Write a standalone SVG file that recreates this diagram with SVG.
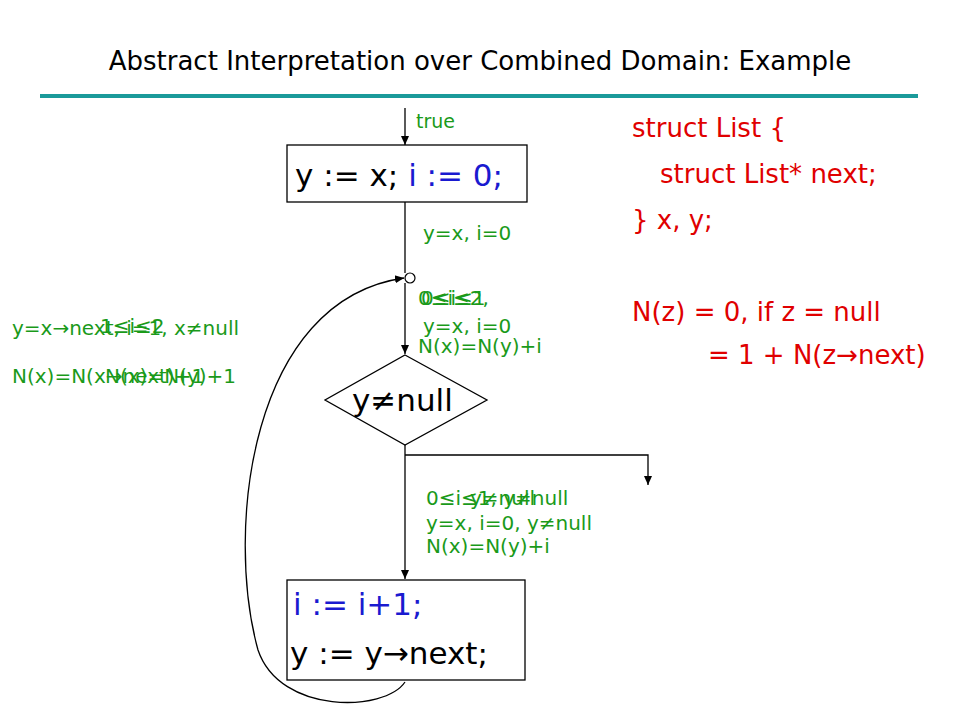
<svg xmlns="http://www.w3.org/2000/svg" width="960" height="720" viewBox="0 0 960 720">
<defs><marker id="a" markerWidth="10" markerHeight="10" refX="9" refY="5" orient="auto" markerUnits="userSpaceOnUse"><path d="M0,1 L9,5 L0,9 z" fill="#000"/></marker></defs>
<style>
text{font-family:"DejaVu Sans","Liberation Sans",sans-serif}
.g{fill:#1a9a1a;font-size:20px}
.r{fill:#e00000;font-size:26px}
.k{font-size:31px;fill:#000}
.l{stroke:#000;stroke-width:1.3;fill:none}
</style>
<rect width="960" height="720" fill="#fff"/>
<text x="480" y="70" text-anchor="middle" font-size="26">Abstract Interpretation over Combined Domain: Example</text>
<rect x="40" y="94" width="878" height="4" fill="#1a9a9a"/>
<g id="connectors">
<line class="l" x1="405" y1="108" x2="405" y2="145" marker-end="url(#a)"/>
<line class="l" x1="405" y1="202" x2="405" y2="273"/>
<circle cx="410" cy="278" r="5" fill="#fff" stroke="#000" stroke-width="1.2"/>
<line class="l" x1="405" y1="283" x2="405" y2="354" marker-end="url(#a)"/>
<line class="l" x1="405" y1="445" x2="405" y2="579" marker-end="url(#a)"/>
<polyline class="l" points="405,455 648,455 648,485" marker-end="url(#a)"/>
<path class="l" d="M405,682 C385,712 280,715 258,650 C225,530 250,300 404,278" marker-end="url(#a)"/>
</g>
<text x="416" y="128" fill="#1a9a1a" font-size="19">true</text>
<g id="n1"><rect x="287" y="145" width="240" height="57" fill="#fff" stroke="#000" stroke-width="1.3"/>
<text x="295" y="186" class="k">y := x; <tspan fill="#1a1ad0">i := 0;</tspan></text></g>
<g id="n2"><polygon points="405,355 487,400 405,445 325,400" fill="#fff" stroke="#000" stroke-width="1.3"/>
<text x="352" y="411" class="k">y≠null</text></g>
<g id="n3"><rect x="287" y="580" width="238" height="100" fill="#fff" stroke="#000" stroke-width="1.3"/>
<text x="293" y="615" class="k" fill="#1a1ad0" style="fill:#1a1ad0">i := i+1;</text>
<text x="290" y="664" class="k">y := y→next;</text></g>
<text x="423" y="240" class="g">y=x, i=0</text>
<text x="418" y="305" class="g">0≤i≤2,</text>
<text x="421" y="305" class="g">0≤i≤1</text>
<text x="423" y="333" class="g">y=x, i=0</text>
<text x="418" y="353" class="g">N(x)=N(y)+i</text>
<text x="12" y="335" class="g">y=x→next, i=1, x≠null</text>
<text x="100" y="333" class="g">1≤i≤2</text>
<text x="12" y="383" class="g">N(x)=N(x→next)+1</text>
<text x="105" y="383" class="g">N(x)=N(y)+1</text>
<text x="426" y="505" class="g">0≤i≤1, y≠null</text>
<text x="470" y="505" class="g">y≠null</text>
<text x="426" y="530" class="g">y=x, i=0, y≠null</text>
<text x="426" y="553" class="g">N(x)=N(y)+i</text>
<g class="r">
<text x="632" y="137">struct List {</text>
<text x="660" y="183">struct List* next;</text>
<text x="632" y="229">} x, y;</text>
<text x="632" y="321">N(z) = 0, if z = null</text>
<text x="708" y="364">= 1 + N(z→next)</text>
</g>
</svg>
